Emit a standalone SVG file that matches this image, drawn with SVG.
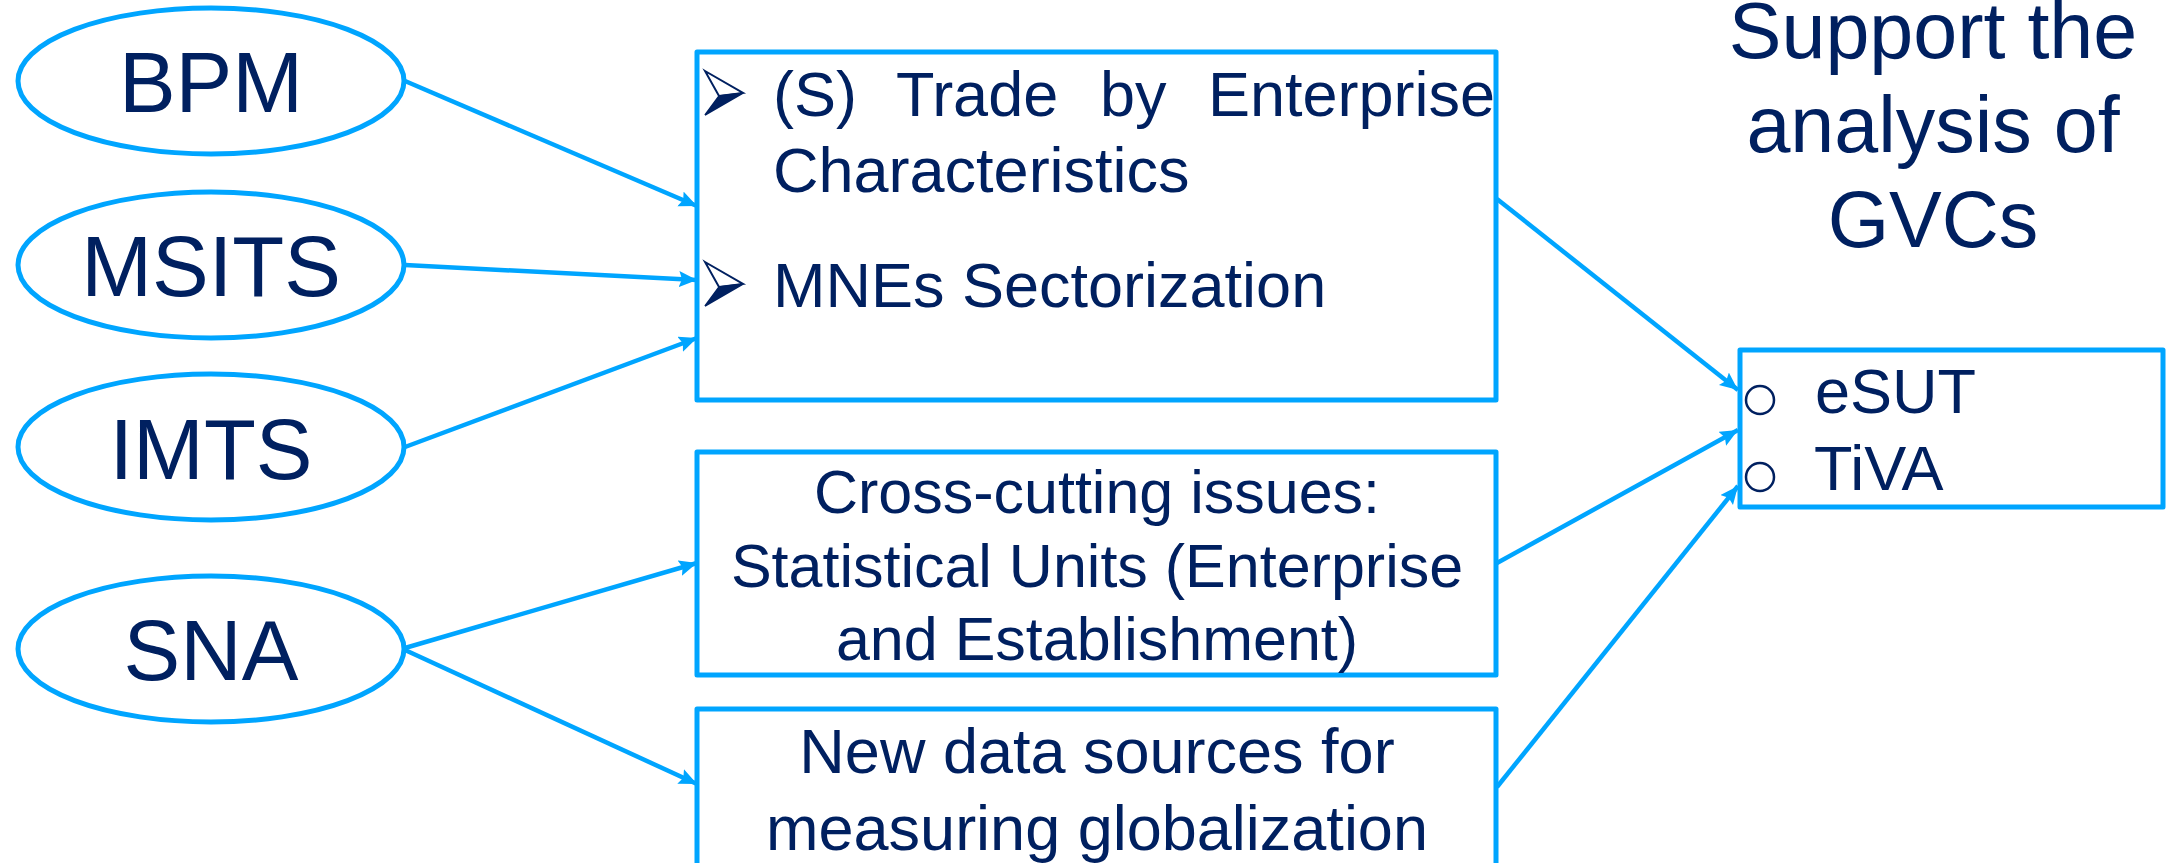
<svg xmlns="http://www.w3.org/2000/svg" width="2174" height="863" viewBox="0 0 2174 863">
<style>
.node{fill:#fff;stroke:#00A5FF;stroke-width:5;stroke-linejoin:round}
.t{font-family:"Liberation Sans",Arial,sans-serif;fill:#002060}
.e{font-size:85px;text-anchor:middle}
.c{stroke:#00A5FF;stroke-width:4.5;fill:none}
</style>
<defs>
<marker id="arr" markerUnits="userSpaceOnUse" markerWidth="22" markerHeight="18" refX="18" refY="8" orient="auto">
<path d="M0,0 L18,8 L0,16 L3,8 Z" fill="#00A5FF"/>
</marker>
<g id="bullet">
<path d="M0,0 L38,22 L14,25 Z" fill="#fff" stroke="#002060" stroke-width="2" stroke-linejoin="miter"/>
<path d="M14,25 L38,22 L0,44 Z" fill="#002060" stroke="#002060" stroke-width="1.5"/>
</g>
</defs>
<rect width="2174" height="863" fill="#fff"/>

<g id="connectors">
<line class="c" x1="405" y1="81" x2="697" y2="206" marker-end="url(#arr)"/>
<line class="c" x1="405" y1="265" x2="697" y2="280" marker-end="url(#arr)"/>
<line class="c" x1="405" y1="447" x2="697" y2="338" marker-end="url(#arr)"/>
<line class="c" x1="405" y1="648" x2="697" y2="563" marker-end="url(#arr)"/>
<line class="c" x1="405" y1="650" x2="697" y2="784" marker-end="url(#arr)"/>
<line class="c" x1="1497" y1="199" x2="1738" y2="390" marker-end="url(#arr)"/>
<line class="c" x1="1497" y1="563" x2="1738" y2="430" marker-end="url(#arr)"/>
<line class="c" x1="1497" y1="787" x2="1738" y2="486" marker-end="url(#arr)"/>
</g>

<g id="bpm">
<ellipse class="node" cx="211" cy="81" rx="193" ry="73"/>
<text class="t e" x="211" y="112">BPM</text>
</g>
<g id="msits">
<ellipse class="node" cx="211" cy="265" rx="193" ry="73"/>
<text class="t e" x="211" y="296">MSITS</text>
</g>
<g id="imts">
<ellipse class="node" cx="211" cy="447" rx="193" ry="73"/>
<text class="t e" x="211" y="479">IMTS</text>
</g>
<g id="sna">
<ellipse class="node" cx="211" cy="649" rx="193" ry="73"/>
<text class="t e" x="211" y="680">SNA</text>
</g>

<g id="box-trade">
<rect class="node" x="697" y="52" width="799" height="348"/>
<use href="#bullet" x="705" y="71"/>
<use href="#bullet" x="705" y="262"/>
<text class="t" font-size="63"><tspan x="773" y="116">(S)</tspan><tspan x="896" y="116">Trade</tspan><tspan x="1100" y="116">by</tspan><tspan x="1208" y="116">Enterprise</tspan></text>
<text class="t" font-size="63" x="773" y="192">Characteristics</text>
<text class="t" font-size="63" x="773" y="307">MNEs Sectorization</text>
</g>

<g id="box-cross">
<rect class="node" x="697" y="452" width="799" height="223"/>
<text class="t" font-size="61" text-anchor="middle"><tspan x="1097" y="513">Cross-cutting issues:</tspan><tspan x="1097" y="587">Statistical Units (Enterprise</tspan><tspan x="1097" y="660">and Establishment)</tspan></text>
</g>

<g id="box-new">
<rect class="node" x="697" y="709" width="799" height="220"/>
<text class="t" font-size="63" text-anchor="middle"><tspan x="1097" y="773">New data sources for</tspan><tspan x="1097" y="850">measuring globalization</tspan></text>
</g>

<g id="title">
<text class="t" font-size="79" text-anchor="middle"><tspan x="1933" y="58">Support the</tspan><tspan x="1933" y="152">analysis of</tspan><tspan x="1933" y="247">GVCs</tspan></text>
</g>

<g id="box-gvc">
<rect class="node" x="1740" y="350" width="423" height="157"/>
<circle cx="1760" cy="400" r="14" fill="#fff" stroke="#002060" stroke-width="2.5"/>
<circle cx="1760" cy="477" r="14" fill="#fff" stroke="#002060" stroke-width="2.5"/>
<text class="t" font-size="63"><tspan x="1815" y="413">eSUT</tspan><tspan x="1814" y="490">TiVA</tspan></text>
</g>
</svg>
